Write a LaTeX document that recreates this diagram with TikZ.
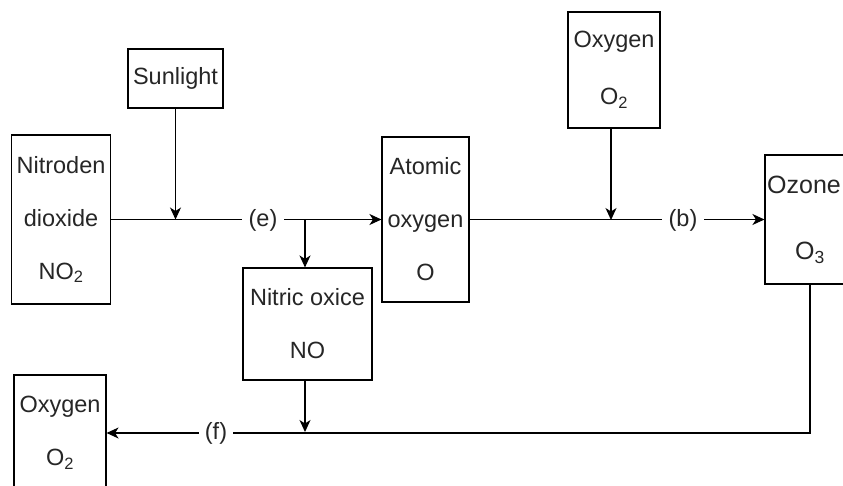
\documentclass[tikz,border=0pt]{standalone}
\usepackage{fontspec}
\setmainfont{Liberation Sans}
\usetikzlibrary{arrows.meta}
\begin{document}
\begin{tikzpicture}[x=1pt,y=-1pt,
  box/.style={draw, line width=1.1pt, inner sep=0pt, align=center, font=\fontsize{23.5}{53}\selectfont, text=black!85},
  conn/.style={line width=1.1pt},
  arr/.style={conn, -{Stealth[length=12pt,width=11pt,inset=3.5pt]}},
  lbl/.style={fill=white, inner xsep=7pt, inner ysep=2pt, text=black!85, font=\fontsize{23.5}{25}\selectfont}]
\useasboundingbox (0,0) rectangle (843,485);
% boxes
\node[box, minimum width=99pt, minimum height=169pt] (no2) at (61,219.5) {Nitroden\\dioxide\\NO\textsubscript{2}};
\node[box, minimum width=95pt, minimum height=59pt] (sun) at (175.5,78.5) {Sunlight};
\node[box, minimum width=87pt, minimum height=165pt] (atom) at (425.5,219.5) {Atomic\\oxygen\\O};
\node[box, minimum width=129pt, minimum height=112pt] (nitric) at (307.5,324) {Nitric oxice\\NO};
\node[box, minimum width=92pt, minimum height=116pt, font=\fontsize{23.5}{57}\selectfont] (oxtop) at (614,70) {Oxygen\\O\textsubscript{2}};
\node[box, minimum width=90pt, minimum height=129pt, font=\fontsize{25}{66}\selectfont] (ozone) at (810,219.5) {Ozone\hspace{12pt}\null\\O\textsubscript{3}};
\node[box, minimum width=92pt, minimum height=116pt] (oxbot) at (60,433) {Oxygen\\O\textsubscript{2}};
% junction coordinates
\coordinate (jsun) at (sun.south |- no2.east);
\coordinate (jno) at (305,220);
\coordinate (jox) at (611,220);
\coordinate (jbot) at (305,432);
\coordinate (corner) at (ozone.south |- oxbot.east);
% connectors
\draw[arr] (no2.east) -- (atom.west);
\draw[arr] (sun.south) -- (jsun);
\draw[arr] (jno) -- (jno |- nitric.north);
\draw[arr] (atom.east) -- (ozone.west);
\draw[arr] (oxtop.south -| jox) -- (jox);
\draw[arr] (ozone.south) -- (corner) -- (oxbot.east);
\draw[arr] (nitric.south -| jbot) -- (jbot);
% labels
\node[lbl] (le) at (263,220) {(e)};
\node[lbl] (lb) at (683,220) {(b)};
\node[lbl, inner xsep=6pt] (lf) at (216,433) {(f)};
\end{tikzpicture}
\end{document}
